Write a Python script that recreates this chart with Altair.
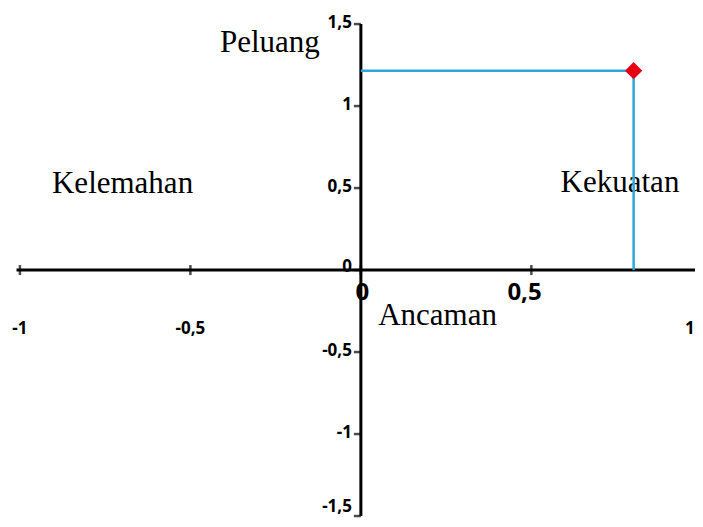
import altair as alt
import pandas as pd

# ---- data ----
x_ticks = [-1, -0.5, 0, 0.5, 1]
x_tick_labels = ["-1", "-0,5", "", "", "1"]
x_label_pos = [-1, -0.5, 0, 0.5, 0.965]
y_ticks = [-1.5, -1, -0.5, 0, 0.5, 1, 1.5]
y_tick_labels = ["-1,5", "-1", "-0,5", "0", "0,5", "1", "1,5"]
y_label_pos = [-1.45, -1, -0.5, 0.01, 0.5, 1, 1.5]

point_x = [0.8]
point_y = [1.216]

quadrant_labels = ["Peluang", "Kelemahan", "Kekuatan", "Ancaman"]
quadrant_x = [-0.267, -0.699, 0.76, 0.225]
quadrant_y = [1.329, 0.47, 0.476, -0.335]

big_labels = ["0", "0,5"]
big_x = [0.004, 0.48]
big_y = [-0.183, -0.183]

x_axis_range = [-1.01, 1.0]
y_axis_range = [-1.5, 1.5]

# ---- tables ----
xs = alt.Scale(domain=[-1.035, 0.980], nice=False, zero=False)
ys = alt.Scale(domain=[-1.512, 1.598], nice=False, zero=False)

axes_df = pd.DataFrame({
    "x": [x_axis_range[0], 0],
    "x2": [x_axis_range[1], 0],
    "y": [0, y_axis_range[0]],
    "y2": [0, y_axis_range[1]],
})
xt_df = pd.DataFrame({"v": x_ticks, "pos": x_label_pos, "label": x_tick_labels,
                      "zero": [0] * len(x_ticks), "lab_y": [-0.36] * len(x_ticks)})
yt_df = pd.DataFrame({"v": y_ticks, "pos": y_label_pos, "label": y_tick_labels,
                      "zero": [0] * len(y_ticks)})
q_df = pd.DataFrame({"label": quadrant_labels, "x": quadrant_x, "y": quadrant_y})
b_df = pd.DataFrame({"label": big_labels, "x": big_x, "y": big_y})
seg_df = pd.DataFrame({
    "x": [0, point_x[0]],
    "x2": [point_x[0], point_x[0]],
    "y": [point_y[0], 0],
    "y2": [point_y[0], point_y[0]],
})
pt_df = pd.DataFrame({"x": point_x, "y": point_y})

NUM_FONT = "Noto Sans"

# ---- layers ----
axes = alt.Chart(axes_df).mark_rule(color="black", strokeWidth=3).encode(
    x=alt.X("x:Q", scale=xs, axis=None), x2="x2:Q",
    y=alt.Y("y:Q", scale=ys, axis=None), y2="y2:Q")

xticks = alt.Chart(xt_df).mark_tick(orient="vertical", size=10, thickness=2.5, color="black").encode(
    x=alt.X("v:Q", scale=xs, axis=None), y=alt.Y("zero:Q", scale=ys, axis=None))

yticks = alt.Chart(yt_df).mark_tick(orient="horizontal", size=7, thickness=2.5, color="black",
                                    xOffset=-3.5).encode(
    x=alt.X("zero:Q", scale=xs, axis=None), y=alt.Y("v:Q", scale=ys, axis=None))

xlabels = alt.Chart(xt_df).mark_text(font=NUM_FONT, fontWeight="bold", fontSize=17,
                                     align="center", baseline="middle", color="black").encode(
    x=alt.X("pos:Q", scale=xs, axis=None), y=alt.Y("lab_y:Q", scale=ys, axis=None), text="label:N")

ylabels = alt.Chart(yt_df).mark_text(font=NUM_FONT, fontWeight="bold", fontSize=17,
                                     align="right", baseline="middle", dx=-9, dy=-1,
                                     color="black").encode(
    x=alt.X("zero:Q", scale=xs, axis=None), y=alt.Y("pos:Q", scale=ys, axis=None), text="label:N")

qlabels = alt.Chart(q_df).mark_text(font="Liberation Serif", fontSize=31, align="center",
                                    baseline="alphabetic", color="black").encode(
    x=alt.X("x:Q", scale=xs, axis=None), y=alt.Y("y:Q", scale=ys, axis=None), text="label:N")

blabels = alt.Chart(b_df).mark_text(font=NUM_FONT, fontWeight="bold", fontSize=24,
                                    align="center", baseline="alphabetic", color="black").encode(
    x=alt.X("x:Q", scale=xs, axis=None), y=alt.Y("y:Q", scale=ys, axis=None), text="label:N")

segs = alt.Chart(seg_df).mark_rule(color="#2aa7df", strokeWidth=2.5).encode(
    x=alt.X("x:Q", scale=xs, axis=None), x2="x2:Q",
    y=alt.Y("y:Q", scale=ys, axis=None), y2="y2:Q")

pt = alt.Chart(pt_df).mark_point(shape="diamond", filled=True, size=300, color="#e60012",
                                 opacity=1).encode(
    x=alt.X("x:Q", scale=xs, axis=None), y=alt.Y("y:Q", scale=ys, axis=None))

chart = alt.layer(qlabels, axes, xticks, yticks, xlabels, ylabels, blabels, segs, pt).properties(
    width=687, height=510,
    autosize=alt.AutoSizeParams(type="none"),
    padding=0,
    background="white",
).configure_view(stroke=None)

chart.save("out.html", embed_options={"renderer": "svg", "actions": False})
